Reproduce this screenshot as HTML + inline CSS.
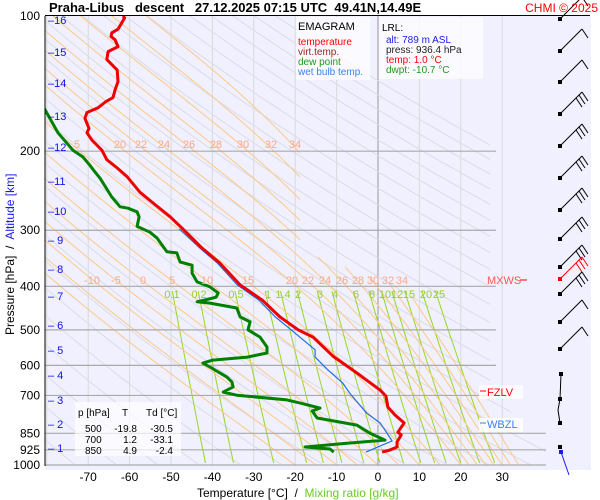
<!DOCTYPE html>
<html><head><meta charset="utf-8"><style>
html,body{margin:0;padding:0;background:#fff;}
svg{display:block;font-family:"Liberation Sans",sans-serif;}
text{white-space:pre;}
</style></head><body>
<svg id="chart" width="600" height="500" xmlns="http://www.w3.org/2000/svg">
<defs><clipPath id="pc"><polygon points="45,16 490,16 490,395 546,440 546,466 45,466"/></clipPath>
<clipPath id="po"><polygon points="45,16 300,16 300,250 405,290 546,440 546,466 45,466"/></clipPath>
<clipPath id="pa"><rect x="45" y="16" width="501" height="450"/></clipPath></defs>
<rect x="45" y="16" width="546" height="454" fill="#f0f0fe"/>
<g id="iso" clip-path="url(#pa)"></g>
<g id="bg" clip-path="url(#pc)"></g>
<g id="mo" clip-path="url(#po)"></g>
<g id="grid" clip-path="url(#pa)"></g>
<g id="series" clip-path="url(#pa)"></g>
<g id="labels"></g>
</svg>
<script>
// ---- data ----
const tempP=[100,101,107,109,111,113,117,120,125,132,140,146,152,155,160,164,169,178,182,189,199,209,218,228,247,261,280,297,329,355,397,429,468,500,519,572,624,681,702,743,774,806,845,857,889,912,926,936];
const tempT=[-61.6,-61.2,-62.8,-64.3,-64.5,-63.5,-62.8,-65.2,-65.5,-63.0,-62.8,-63.5,-64.0,-65.7,-67.6,-70.3,-70.8,-69.8,-70.3,-69.1,-66.7,-65.5,-63.0,-60.6,-57.5,-54.3,-50.2,-47.3,-42.5,-38.2,-33.3,-28.0,-23.7,-19.3,-15.7,-10.9,-5.1,0.5,1.9,2.4,4.1,6.3,4.8,5.6,4.6,4.6,2.9,1.0];
const dewP=[160,182,199,206,215,220,230,253,266,268,273,280,294,303,312,335,337,353,359,374,391,401,414,423,429,433,436,447,468,480,500,519,546,563,575,584,593,605,637,653,670,688,699,716,728,747,758,786,815,850,880,894,912,921,936];
const dewT=[-80.7,-77.3,-73.7,-71.3,-69.6,-68.8,-67.1,-64.3,-62.3,-60.4,-58.2,-57.7,-58.2,-55.1,-53.4,-51.0,-48.6,-47.8,-44.9,-44.9,-43.7,-40.6,-38.6,-39.1,-41.8,-43.7,-40.6,-34.1,-33.3,-30.9,-31.4,-28.5,-26.8,-26.8,-31.6,-39.9,-42.3,-40.6,-36.5,-35.3,-35.0,-37.4,-34.1,-22,-18.8,-14.0,-15.9,-14.7,-5.1,-1.9,1.7,-7.5,-17.6,-11.6,-10.7];
const wbP=[298,329,355,397,429,468,500,554,575,614,657,692,728,767,806,850,884,907,936];
const wbT=[-48,-43,-38.8,-34,-28.8,-24.8,-21,-15.2,-15.2,-12.1,-8.5,-6.8,-4.8,-2.7,0.5,2.2,3.4,0.5,-2.9];
const pTicks=[100,200,300,400,500,600,700,850,925,1000];
const tTicks=[-70,-60,-50,-40,-30,-20,-10,0,10,20,30];
const kmTicks=[16,15,14,13,12,11,10,9,8,7,6,5,4,3,2,1];
const kmY=[20,52,83,116,147,181,211,240,269,296,325,350,375,400,424,448];
const mixVals=[0.1,0.2,0.5,1,1.4,2,3,4,6,8,10,12,15,20,25];
const moistVals=[-20,-15,-10,-5,0,5,10,15,20,22,24,26,28,30,32,34];

const NS="http://www.w3.org/2000/svg";
const X=t=>378+t*4.14;
const Y=p=>16+195*Math.log(p/100);
function mk(tag,attrs,parent){const e=document.createElementNS(NS,tag);for(const k in attrs)e.setAttribute(k,attrs[k]);parent.appendChild(e);return e;}
const iso=document.getElementById('iso'),bg=document.getElementById('bg'),mo=document.getElementById('mo'),grid=document.getElementById('grid'),ser=document.getElementById('series'),lab=document.getElementById('labels');
function poly(pts,stroke,w,parent,name){const e=mk('polyline',{points:pts.map(a=>a[0].toFixed(1)+','+a[1].toFixed(1)).join(' '),fill:'none',stroke:stroke,'stroke-width':w,'stroke-linejoin':'round'},parent);

return e;}
function txt(x,y,s,opt,parent,name){const e=mk('text',Object.assign({x:x,y:y,'font-size':12},opt),parent);e.textContent=s;

return e;}

// isotherms
for(let t=-80;t<=30;t+=10){const l=mk('line',{x1:X(t),x2:X(t),y1:16,y2:466,stroke:t===0?'#999':'#dadada','stroke-width':1},iso);

}
// dry adiabats
for(let th=180;th<=480;th+=10){const pts=[];for(let p=100;p<=1000;p+=10){pts.push([X(th*Math.pow(p/1000,0.286)-273.15),Y(p)]);}poly(pts,'#dcdce4',1,bg,'dry-adiabat');}
// moist adiabats
function es(T){return 6.112*Math.exp(17.67*(T-273.15)/(T-29.65));}
moistVals.forEach(v=>{let T=v+273.15,pts=[];for(let p=1000;p>=100;p-=2){pts.push([X(T-273.15),Y(p)]);const e=es(T),rs=0.622*e/(p-e);const d=(287*T+2.5e6*rs)/(p*(1005+2.5e6*2.5e6*rs*0.622/(287*T*T)));T-=d*2;}poly(pts,'#fdc88a',1,mo,'moist-adiabat');});
// mixing ratio lines
mixVals.forEach(w=>{const pts=[];for(let p=410;p<=1000;p+=20){const e=w*p/(622+w),l=Math.log(e/6.112);pts.push([X(243.5*l/(17.67-l)),Y(p)]);}poly(pts,'#99d622',1,bg,'mixing-ratio-line');});
// pressure lines
pTicks.slice(1).forEach(p=>{const x2=p>=850?546:496;const l=mk('line',{x1:45,x2:x2,y1:Y(p),y2:Y(p),stroke:'#aaa','stroke-width':1.2},grid);

});
// series
poly(wbP.map((p,i)=>[X(wbT[i]),Y(p)]),'#1e6ee6',1.2,ser,'wet-bulb-line');
poly(tempP.map((p,i)=>[X(tempT[i]),Y(p)]),'#ee0000',3,ser,'temperature-line');
poly(dewP.map((p,i)=>[X(dewT[i]),Y(p)]),'#008000',3,ser,'dew-point-line');

// axes
const ax=mk('line',{x1:45,x2:45,y1:16,y2:466,stroke:'#000','stroke-width':1},lab);
const tl=mk('line',{x1:45,x2:590,y1:15.5,y2:15.5,stroke:'#000','stroke-width':1},lab);
pTicks.forEach(p=>txt(40,Y(p)+4,String(p),{'text-anchor':'end'},lab,'pressure-tick-label'));
tTicks.forEach(t=>txt(X(t),481,String(t),{'text-anchor':'middle'},lab,'temperature-tick-label'));
kmTicks.forEach((k,i)=>{txt(48,kmY[i]+4,'\u2013'+(k<10?' ':'')+k,{fill:'#1010ee','font-size':11},lab,'altitude-tick-label');});
// orange labels
[['5',77,148],['20',120,148],['22',141,148],['24',164,148],['26',189,148],['28',216,148],['30',243,148],['32',271,148],['34',295,148],
 ['-10',92,284],['-5',116,284],['0',143,284],['5',172,284],['10',207,284],['15',248,284],['20',292,284],['22',308,284],['24',325,284],['26',342,284],['28',358,284],['30',373,284],['32',388,284],['34',402,284]]
 .forEach(a=>txt(a[1],a[2],a[0],{fill:'#f8a888','font-size':11,'text-anchor':'middle'},lab,'moist-adiabat-label'));
[['0.1',172],['0.2',199],['0.5',236],['1',268],['1.4',283],['2',298],['3',320],['4',335],['6',356],['8',372],['10',385],['12',397],['15',409],['20',426],['25',439]]
 .forEach(a=>txt(a[1],298,a[0],{fill:'#99cc33','font-size':11,'text-anchor':'middle'},lab,'mixing-ratio-label'));
// wind barbs
const barbY=[19,51,82,114,146,178,210,239,267,279,294,322,349];
barbY.forEach((y,i)=>{const g=mk('g',{},lab);
 const c=i===9?'#f00':'#000';mk('rect',{x:558,y:y-2,width:4,height:4,fill:c},g);
 const ex=582,ey=y-22;mk('line',{x1:560,y1:y,x2:ex,y2:ey,stroke:c,'stroke-width':1},g);
 const nf=i<3?1:(i<11?3:1);for(let f=0;f<nf;f++){mk('line',{x1:ex-f*3,y1:ey+f*3,x2:ex+6-f*3,y2:ey+9+f*3,stroke:c,'stroke-width':1},g);}});
[[561,374],[560,399],[560,423],[560,447]].forEach((a,i)=>{const r=mk('rect',{x:a[0]-2,y:a[1]-2,width:4,height:4,fill:'#000'},lab);});
poly([[561,374],[560,399],[558,410],[560,423]],'#000',1,lab,'wind-barb-shaft');
const bd=mk('rect',{x:559,y:450,width:4,height:4,fill:'#1a1aee'},lab);
poly([[561,452],[569,475]],'#1a1aee',1,lab,'surface-wind-barb');
</script>
<svg width="600" height="500" style="position:absolute;left:0;top:0" xmlns="http://www.w3.org/2000/svg">
<text x="49" y="12" font-size="13" font-weight="bold" font-family="Liberation Sans,sans-serif">Praha-Libus   descent   27.12.2025 07:15 UTC  49.41N,14.49E</text>
<text x="598" y="12" font-size="12" fill="#f00" text-anchor="end" font-family="Liberation Sans,sans-serif">CHMI © 2025</text>
<rect x="296" y="17" width="74" height="63" fill="#fff" opacity="0.75"/>
<g font-family="Liberation Sans,sans-serif" font-size="10">
<text x="298" y="30" font-size="11">EMAGRAM</text>
<text x="298" y="45" fill="#f00">temperature</text>
<text x="298" y="55" fill="#a02020">virt.temp.</text>
<text x="298" y="65" fill="#1a9a1a">dew point</text>
<text x="298" y="75" fill="#3a80f0">wet bulb temp.</text>
</g>
<rect x="379" y="17" width="104" height="62" fill="#fff" opacity="0.75"/>
<g font-family="Liberation Sans,sans-serif" font-size="10">
<text x="382" y="31">LRL:</text>
<text x="386" y="43" fill="#1a1aee">alt: 789 m ASL</text>
<text x="386" y="53" fill="#222">press: 936.4 hPa</text>
<text x="386" y="63" fill="#f00">temp: 1.0 °C</text>
<text x="386" y="73" fill="#1a9a1a">dwpt: -10.7 °C</text>
</g>
<g font-family="Liberation Sans,sans-serif" font-size="11">
<text x="487" y="284" fill="#f55">MXWS</text><line x1="520" x2="527" y1="280" y2="280" stroke="#f00"/>
<rect x="479" y="385" width="44" height="14" fill="#fff" opacity="0.8"/>
<line x1="480" x2="486" y1="391" y2="391" stroke="#f00"/><text x="487" y="396" fill="#f00">FZLV</text>
<rect x="479" y="418" width="44" height="14" fill="#fff" opacity="0.8"/>
<line x1="480" x2="486" y1="423" y2="423" stroke="#3a80f0"/><text x="487" y="428" fill="#3a80f0">WBZL</text>
</g>
<rect x="75" y="402" width="106" height="54" fill="#fff" opacity="0.7"/>
<g font-family="Liberation Sans,sans-serif" font-size="10">
<text x="78" y="416">p [hPa]</text><text x="122" y="416">T</text><text x="146" y="416">Td [°C]</text>
<text x="85" y="432">500</text><text x="137" y="432" text-anchor="end">-19.8</text><text x="173" y="432" text-anchor="end">-30.5</text>
<text x="85" y="443">700</text><text x="137" y="443" text-anchor="end">1.2</text><text x="173" y="443" text-anchor="end">-33.1</text>
<text x="85" y="454">850</text><text x="137" y="454" text-anchor="end">4.9</text><text x="173" y="454" text-anchor="end">-2.4</text>
</g>
<text x="197" y="497" font-size="12" font-family="Liberation Sans,sans-serif">Temperature [°C]  /  <tspan fill="#66cc22">Mixing ratio [g/kg]</tspan></text>
<text transform="translate(14,335) rotate(-90)" font-size="12" font-family="Liberation Sans,sans-serif">Pressure [hPa]  /  <tspan fill="#1a1aee">Altitude [km]</tspan></text>
</svg>
</body></html>
